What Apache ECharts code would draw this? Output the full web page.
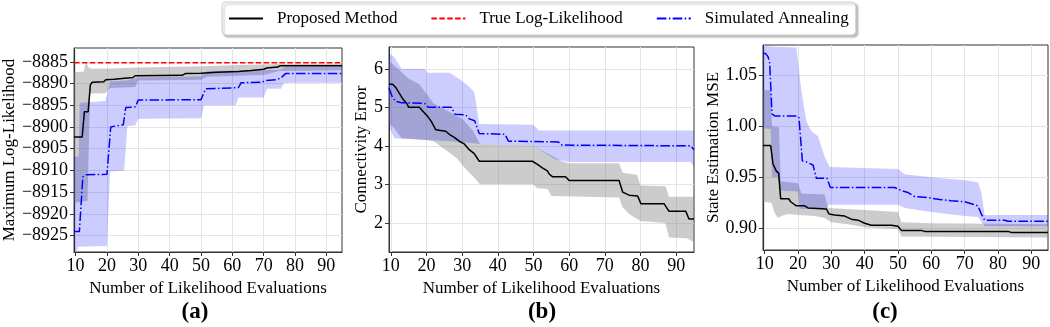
<!DOCTYPE html>
<html>
<head>
<meta charset="utf-8">
<script src="https://cdn.jsdelivr.net/npm/echarts@6/dist/echarts.min.js"></script>
<style>
  html, body { margin: 0; padding: 0; background: #fff; }
  #chart { width: 1050px; height: 327px; }
</style>
</head>
<body>
<div id="chart"></div>
<script>
// tick labels shared by the three panels
const xTicks = [10, 20, 30, 40, 50, 60, 70, 80, 90];
const yTicksA = [-8925, -8920, -8915, -8910, -8905, -8900, -8895, -8890, -8885];
const yTicksB = [2, 3, 4, 5, 6];
const yTicksC = [0.90, 0.95, 1.00, 1.05];

// (a) maximum log-likelihood
const trueLL = -8885.2;
const propA = [[9.5,-8902.3],[12.1,-8902.3],[12.8,-8896.5],[14,-8896.5],[14.7,-8890.3],[15.3,-8889.7],[19,-8889.6],[19.6,-8889.1],[22.3,-8889],[22.8,-8888.8],[28.3,-8888.6],[29,-8888.2],[44,-8888.1],[45,-8887.7],[50,-8887.6],[55,-8887.4],[62,-8887.2],[66,-8887.0],[70,-8886.7],[71,-8886.4],[74.5,-8886.2],[75.2,-8885.9],[95,-8885.9]];
const saA = [[9.5,-8924.1],[11.2,-8924.1],[12.3,-8911.5],[13.5,-8911],[20,-8910.9],[21.2,-8900],[22.5,-8899.8],[25.2,-8899.5],[26,-8895.5],[29,-8895.4],[30,-8893.8],[50,-8893.7],[51.5,-8891.2],[60,-8891],[62,-8890.9],[62.8,-8889.8],[69.5,-8889.7],[70.5,-8889.3],[74,-8889.1],[75.5,-8888.7],[77,-8887.7],[95,-8887.7]];
const grayHiA = [[9.5,-8887.4],[12.6,-8887.2],[13.3,-8884.9],[14,-8886.2],[15,-8886.6],[22,-8886.5],[30,-8886.3],[50,-8886.0],[60,-8885.8],[75,-8885.5],[95,-8885.4]];
const grayLoA = [[9.5,-8917.5],[13.8,-8917.0],[14.6,-8892.3],[19.5,-8892.2],[21,-8891],[29,-8890.8],[30,-8889.3],[50,-8889.1],[52,-8888.4],[70,-8888],[75,-8887.1],[95,-8886.9]];
const blueHiA = [[9.5,-8906.8],[11,-8906.8],[11.3,-8894.5],[14,-8894.3],[19.5,-8894],[21,-8889.5],[26,-8889.3],[30,-8888.6],[50,-8888.3],[52,-8887.1],[75,-8886.8],[77,-8886.2],[95,-8886.2]];
const blueLoA = [[9.5,-8931],[10.7,-8927.6],[20,-8927.4],[21,-8910.3],[25.5,-8910],[26.5,-8899.8],[29,-8899.6],[30,-8898.1],[50,-8898],[51,-8895],[61,-8895],[62,-8893.2],[70,-8893.2],[71,-8891.2],[75.5,-8891.2],[76.5,-8889.8],[95,-8889.8]];

// (b) connectivity error
const propB = [[9.5,5.6],[10.5,5.6],[11.5,5.5],[12.5,5.35],[13.5,5.2],[14.5,5.1],[15,5.0],[18,5.0],[19,4.9],[20.3,4.77],[21.3,4.64],[22.6,4.42],[25.4,4.38],[26.4,4.3],[27.8,4.22],[29.2,4.12],[30.6,4.05],[32,3.9],[33.4,3.8],[34.8,3.6],[49.7,3.6],[51.1,3.52],[52.5,3.43],[53.9,3.35],[54.4,3.27],[55.3,3.2],[59,3.2],[60,3.1],[74,3.1],[75,2.8],[76.8,2.72],[79.2,2.7],[80.1,2.5],[86.6,2.5],[88,2.3],[92.7,2.3],[93.6,2.1],[95,2.1]];
const saB = [[9.5,5.5],[10.5,5.25],[11.5,5.15],[13,5.12],[19.5,5.1],[20.5,5.0],[27,5.0],[28,4.82],[31,4.8],[32,4.7],[33.5,4.65],[34.8,4.32],[42,4.3],[43,4.12],[57,4.1],[58,4.02],[94,4.0],[95,3.9]];
const grayHiB = [[9.5,6.2],[12,6.0],[15,5.75],[18,5.6],[20,5.35],[22,5.1],[24,5.0],[28,4.8],[30,4.7],[33,4.4],[35,4.05],[50,4.0],[52,3.9],[55,3.75],[58,3.6],[60,3.55],[74,3.55],[75,3.3],[79,3.25],[80,2.97],[87,2.95],[88,2.68],[95,2.68]];
const grayLoB = [[9.5,4.6],[11,4.45],[13,4.2],[20,4.15],[22,4.12],[26,3.85],[28.7,3.66],[31,3.4],[33.8,3.14],[35,3.0],[50,3.0],[51,2.9],[54,2.88],[55,2.7],[74,2.66],[75,2.4],[77,2.22],[80,2.05],[87,2.0],[88,1.62],[93,1.6],[95,1.5]];
const blueHiB = [[9.5,6.4],[11,6.3],[13,6.0],[19.5,6.0],[20.3,5.9],[26.5,5.9],[29,5.75],[31.5,5.57],[33.4,5.4],[34.8,4.57],[50,4.55],[51.5,4.4],[95,4.4]];
const blueLoB = [[9.5,4.5],[11,4.2],[20,4.15],[30,4.1],[35,4.05],[50,4.0],[56,3.65],[60,3.58],[94,3.58],[95,3.45]];

// (c) state estimation MSE
const propC = [[9.5,0.981],[11.8,0.981],[12.5,0.963],[13.5,0.956],[14.2,0.954],[14.8,0.929],[17.2,0.929],[17.8,0.926],[19.5,0.922],[22,0.922],[23,0.920],[28.5,0.919],[29.3,0.914],[31,0.913],[34,0.912],[36,0.909],[38,0.908],[40,0.905],[42,0.903],[48,0.903],[50,0.902],[51,0.898],[57,0.898],[58,0.897],[83,0.897],[84,0.896],[95,0.896]];
const saC = [[9.5,1.071],[10.3,1.071],[11,1.068],[11.5,1.062],[12.2,1.012],[13,1.01],[19.7,1.01],[20.3,1.008],[21.3,0.966],[22.5,0.965],[24.5,0.962],[25.5,0.949],[28.7,0.949],[29.7,0.940],[49,0.94],[51,0.937],[53,0.935],[55,0.931],[59,0.93],[63,0.928],[66,0.927],[70,0.926],[72,0.924],[74,0.922],[75,0.914],[76,0.908],[82,0.908],[83,0.907],[95,0.907]];
const grayHiC = [[9.5,1.035],[11.8,1.035],[12.2,1.0],[14.3,0.999],[14.8,0.946],[20,0.944],[21,0.934],[28,0.933],[29,0.92],[40,0.918],[50,0.916],[51,0.906],[60,0.905],[95,0.904]];
const grayLoC = [[9.5,0.926],[12,0.925],[13,0.915],[14,0.91],[15,0.912],[17,0.914],[20,0.913],[25,0.912],[28,0.91],[30,0.906],[35,0.904],[40,0.901],[45,0.900],[50,0.899],[51,0.892],[95,0.891]];
const blueHiC = [[9.5,1.079],[12,1.078],[19.5,1.077],[21,1.035],[22.5,1.005],[24,0.995],[26,0.99],[28,0.97],[29.5,0.96],[50,0.958],[52,0.953],[60,0.95],[70,0.947],[74,0.945],[75,0.935],[76,0.913],[95,0.913]];
const blueLoC = [[9.5,0.998],[11.8,0.997],[12.2,0.95],[14,0.95],[14.5,0.937],[20,0.936],[20.5,0.919],[28.5,0.919],[29.3,0.923],[50,0.923],[52,0.92],[60,0.916],[70,0.912],[74,0.911],[76,0.902],[95,0.902]];

const FONT = 'Liberation Serif';
const GRAY_FILL = 'rgba(128,128,128,0.4)';
const BLUE_FILL = 'rgba(0,0,255,0.2)';

const grids = [
    { left: 72, top: 48, width: 270, height: 204 },
    { left: 389, top: 47, width: 305, height: 205 },
    { left: 763, top: 45, width: 285, height: 205 }
];

function xAxisFor(i) {
    return {
        type: 'value', gridIndex: i, min: 9.5, max: 95,
        name: 'Number of Likelihood Evaluations',
        nameLocation: 'middle', nameGap: 24,
        nameTextStyle: { fontFamily: FONT, fontSize: 17, color: '#000' },
        axisLine: { show: true, lineStyle: { color: '#333', width: 1 } },
        axisTick: { show: true, length: 4, customValues: xTicks, lineStyle: { color: '#333' } },
        axisLabel: { customValues: xTicks, margin: 5, fontFamily: FONT, fontSize: 18, color: '#000' },
        splitLine: { show: true, lineStyle: { color: '#e4e4e4', width: 1 } }
    };
}

function yAxisFor(i, name, min, max, ticks, fmt, gap) {
    return {
        type: 'value', gridIndex: i, min: min, max: max,
        name: name, nameLocation: 'middle', nameGap: gap,
        nameTextStyle: { fontFamily: FONT, fontSize: 17, color: '#000' },
        axisLine: { show: true, lineStyle: { color: '#333', width: 1 } },
        axisTick: { show: true, length: 4, customValues: ticks, lineStyle: { color: '#333' } },
        axisLabel: { customValues: ticks, formatter: fmt, margin: 6, fontFamily: FONT, fontSize: 18, color: '#000' },
        splitLine: { show: true, lineStyle: { color: '#e4e4e4', width: 1 } }
    };
}

// shaded band between an upper and a lower boundary
function band(i, hi, lo, fill) {
    return {
        type: 'custom', xAxisIndex: i, yAxisIndex: i, clip: true, silent: true, z: 1,
        data: [hi[0]],
        renderItem: (params, api) => {
            const pts = hi.map(p => api.coord(p)).concat(lo.slice().reverse().map(p => api.coord(p)));
            return { type: 'polygon', shape: { points: pts }, style: { fill: fill } };
        }
    };
}

function line(i, name, data, color, type) {
    return {
        type: 'line', name: name, xAxisIndex: i, yAxisIndex: i, data: data,
        symbol: 'none', z: 3, clip: true,
        lineStyle: { color: color, width: 1.5, type: type },
        itemStyle: { color: color }
    };
}

const SOLID = 'solid';
const DASHED = [5.5, 2.4];
const DASHDOT = [9.6, 2.4, 1.5, 2.4];

const minus = v => (v < 0 ? '\u2212' : '') + Math.abs(v);

function panelLabel(text, x) {
    return {
        type: 'text', x: x, y: 312,
        style: { text: text, fontFamily: FONT, fontSize: 23, fontWeight: 'bold', fill: '#000', align: 'center', verticalAlign: 'middle' }
    };
}

let option = {
    animation: false,
    backgroundColor: '#fff',
    legend: {
        left: 222, top: 2,
        data: ['Proposed Method', 'True Log-Likelihood', 'Simulated Annealing'],
        itemWidth: 34, itemHeight: 12, itemGap: 33,
        padding: [8, 7, 8, 6],
        itemStyle: { opacity: 0 },
        borderColor: '#cccccc', borderWidth: 1, borderRadius: 4,
        backgroundColor: '#fff',
        shadowColor: 'rgba(0,0,0,0.25)', shadowBlur: 2, shadowOffsetX: 2, shadowOffsetY: 2,
        textStyle: { fontFamily: FONT, fontSize: 17, color: '#000', padding: [0, 0, 0, 9] }
    },
    grid: grids.map(g => Object.assign({ show: true, borderColor: '#333', borderWidth: 1, backgroundColor: 'transparent' }, g)),
    xAxis: [xAxisFor(0), xAxisFor(1), xAxisFor(2)],
    yAxis: [
        yAxisFor(0, 'Maximum Log-Likelihood', -8928.8, -8881.8, yTicksA, minus, 53),
        yAxisFor(1, 'Connectivity Error', 1.245, 6.565, yTicksB, v => String(v), 19),
        yAxisFor(2, 'State Estimation MSE', 0.8788, 1.0794, yTicksC, v => v.toFixed(2), 41)
    ],
    series: [
        band(0, grayHiA, grayLoA, GRAY_FILL),
        band(0, blueHiA, blueLoA, BLUE_FILL),
        line(0, 'Proposed Method', propA, '#000', SOLID),
        line(0, 'True Log-Likelihood', [[9.5, trueLL], [95, trueLL]], '#ff0000', DASHED),
        line(0, 'Simulated Annealing', saA, '#0000ff', DASHDOT),

        band(1, grayHiB, grayLoB, GRAY_FILL),
        band(1, blueHiB, blueLoB, BLUE_FILL),
        line(1, 'Proposed Method', propB, '#000', SOLID),
        line(1, 'Simulated Annealing', saB, '#0000ff', DASHDOT),

        band(2, grayHiC, grayLoC, GRAY_FILL),
        band(2, blueHiC, blueLoC, BLUE_FILL),
        line(2, 'Proposed Method', propC, '#000', SOLID),
        line(2, 'Simulated Annealing', saC, '#0000ff', DASHDOT)
    ],
    graphic: [
        panelLabel('(a)', 195),
        panelLabel('(b)', 542),
        panelLabel('(c)', 885)
    ]
};

let chart = echarts.init(document.getElementById('chart'));
chart.setOption(option);
</script>
</body>
</html>
